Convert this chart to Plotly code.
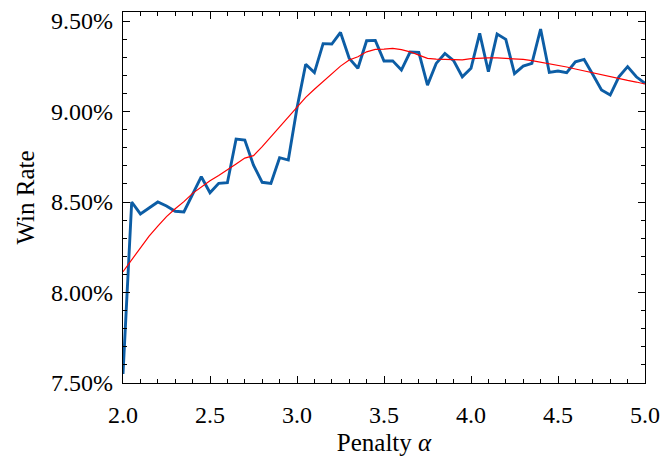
import plotly.graph_objects as go

penalty = [round(2.0 + 0.05 * i, 2) for i in range(61)]

win_rate = [
    7.55, 8.50, 8.434, 8.467, 8.50, 8.478, 8.449, 8.445, 8.539, 8.640,
    8.551, 8.603, 8.607, 8.848, 8.842, 8.704, 8.609, 8.603, 8.745, 8.732,
    9.02, 9.261, 9.215, 9.375, 9.373, 9.437, 9.294, 9.239, 9.391, 9.393,
    9.279, 9.280, 9.229, 9.329, 9.327, 9.146, 9.266, 9.321, 9.281, 9.192,
    9.239, 9.432, 9.220, 9.428, 9.399, 9.209, 9.251, 9.266, 9.456, 9.216,
    9.224, 9.215, 9.275, 9.288, 9.205, 9.119, 9.091, 9.192, 9.248, 9.192,
    9.156,
]

smoothed = [
    8.115, 8.18, 8.25, 8.312, 8.367, 8.419, 8.463, 8.502, 8.548, 8.585,
    8.618, 8.647, 8.677, 8.710, 8.743, 8.756, 8.806, 8.861, 8.916, 8.971,
    9.027, 9.078, 9.123, 9.165, 9.211, 9.251, 9.285, 9.303, 9.330, 9.343,
    9.345, 9.349, 9.342, 9.330, 9.312, 9.294, 9.290, 9.288, 9.286, 9.286,
    9.292, 9.296, 9.296, 9.296, 9.294, 9.292, 9.288, 9.281, 9.273, 9.264,
    9.255, 9.246, 9.235, 9.224, 9.213, 9.204, 9.192, 9.181, 9.172, 9.163,
    9.152,
]

x_ticks = [2.0, 2.5, 3.0, 3.5, 4.0, 4.5, 5.0]
y_ticks = [7.5, 8.0, 8.5, 9.0, 9.5]

FONT = "Liberation Serif, Times New Roman, serif"

fig = go.Figure()
fig.add_trace(go.Scatter(x=penalty, y=win_rate, mode="lines",
                         line=dict(color="#0C5DA5", width=2.9), showlegend=False))
fig.add_trace(go.Scatter(x=penalty, y=smoothed, mode="lines",
                         line=dict(color="#FF0000", width=1.2), showlegend=False))

axis_common = dict(
    showgrid=False, zeroline=False, showline=True, linecolor="black", linewidth=1.3,
    mirror="ticks", ticks="inside", ticklen=7, tickwidth=1.1, tickcolor="black",
    tickfont=dict(family=FONT, size=24, color="black"), automargin=False,
)

fig.update_layout(
    width=663, height=462,
    margin=dict(l=123, r=18, t=12, b=79),
    paper_bgcolor="white", plot_bgcolor="white",
    font=dict(family=FONT, size=24, color="black"),
    xaxis=dict(
        range=[2.0, 5.0], tickvals=x_ticks, ticktext=[f"{v:.1f}" for v in x_ticks],
        ticklabelstandoff=10,
        title=dict(text="Penalty <i>α</i>", font=dict(family=FONT, size=25), standoff=6),
        minor=dict(ticks="inside", dtick=0.1, tick0=2.0, ticklen=4, tickwidth=1, tickcolor="black"),
        **axis_common,
    ),
    yaxis=dict(
        range=[7.5, 9.55], tickvals=y_ticks, ticktext=[f"{v:.2f}%" for v in y_ticks],
        ticklabelstandoff=4,
        title=dict(text="Win Rate", font=dict(family=FONT, size=25), standoff=9),
        minor=dict(ticks="inside", dtick=0.1, tick0=7.5, ticklen=4, tickwidth=1, tickcolor="black"),
        **axis_common,
    ),
)

fig.write_html("out.html")
